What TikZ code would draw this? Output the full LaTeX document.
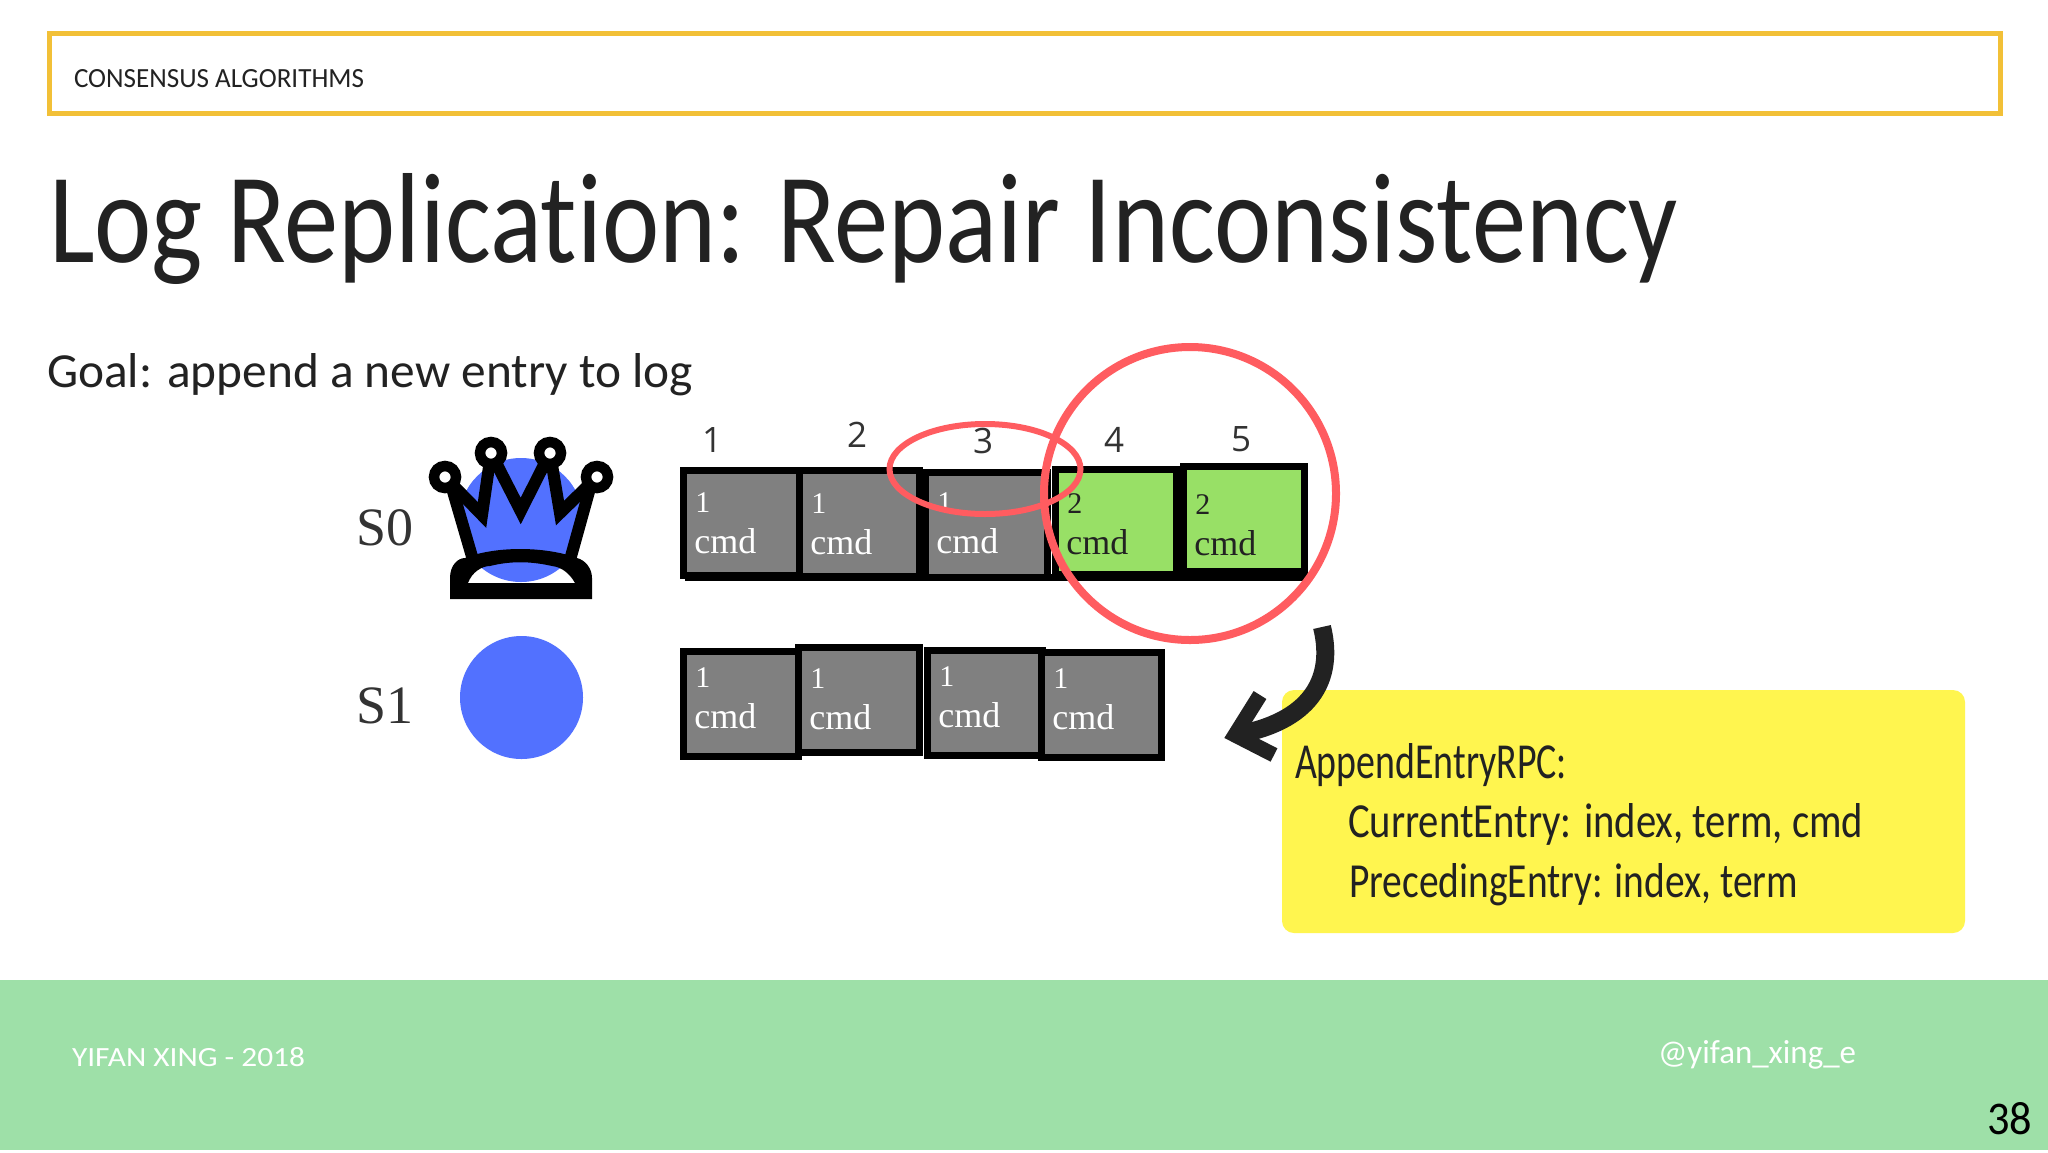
\documentclass[tikz,border=0pt]{standalone}
\usepackage{fontspec}
\usepackage{graphicx}
\usetikzlibrary{shapes.geometric}
\setmainfont{Carlito}[Ligatures=NoCommon]
\newfontfamily\slabfont{Liberation Serif}
\newfontfamily\numfont{Open Sans}
\definecolor{goldc}{HTML}{F2C037}
\definecolor{inkc}{HTML}{222222}
\definecolor{grayc}{HTML}{808080}
\definecolor{greenc}{HTML}{98E066}
\definecolor{bluec}{HTML}{5271FF}
\definecolor{redc}{HTML}{FF5C60}
\definecolor{yellowc}{HTML}{FFF54F}
\definecolor{footc}{HTML}{9EE0A8}
% px unit: 1px = 0.5pt
\newcommand{\fit}[3]{\resizebox{\dimexpr#1pt/2\relax}{\dimexpr#2pt/2\relax}{#3}}
\tikzset{
 x=0.5pt,y=-0.5pt,
 hand/.style={inner sep=0pt,outer sep=0pt,anchor=base west,text=inkc},
 cellbox/.style={draw=black,line width=3.5pt,rectangle,inner sep=0pt,outer sep=0pt},
 graycell/.style={cellbox,fill=grayc},
 greencell/.style={cellbox,fill=greenc},
 termtext/.style={inner sep=0pt,anchor=base west,font=\slabfont\fontsize{15}{15}\selectfont},
 cmdtext/.style={inner sep=0pt,anchor=base west,font=\slabfont\fontsize{18}{18}\selectfont},
 idx/.style={inner sep=0pt,anchor=base,text=black!80,font=\numfont\fontsize{17.5}{18}\selectfont},
 srv/.style={inner sep=0pt,anchor=base west,text=black!80,font=\slabfont\fontsize{27}{27}\selectfont},
 ball/.style={circle,draw=black,fill=white,line width=5.25pt,minimum size=11pt,inner sep=0pt},
 crownline/.style={black,line width=6pt,line join=miter,miter limit=10},
}
% \logcell{name}{style}{textcolor}{x0}{y0}{x1}{y1}{term}{baseline offset}: x0..y1 is the inner fill in px
\newcommand{\logcell}[9]{%
 \node[#2,minimum width={(#6-#4+7)*0.5pt},minimum height={(#7-#5+7)*0.5pt}] (#1) at ({(#4+#6)/2},{(#5+#7)/2}) {};
 \node[termtext,text=#3] (#1t) at ({#4+8},{#5+#9}) {#8};
 \node[cmdtext,text=#3] (#1c) at ({#4+7},{#5+#9+41}) {cmd};
}
\begin{document}
\begin{tikzpicture}
\useasboundingbox (0,0) rectangle (2048,1152);
\fill[white] (0,0) rectangle (2048,1152);
% footer
\fill[footc] (0,980) rectangle (2048,1150);
% header
\node[draw=goldc,line width=2.5pt,rectangle,inner sep=0pt,outer sep=0pt,minimum width=975.25pt,minimum height=40pt] (hdr) at (1024.75,73.5) {};
\node[hand] (kicker) at (74,87) {\fit{290}{18}{CONSENSUS ALGORITHMS}};
\node[hand] (title) at (49,262) {\fit{1629}{89}{Log Replication: Repair Inconsistency}};
\node[hand] (goal) at (47,387) {\fit{646}{34}{Goal: append a new entry to log}};
% servers
\node[srv] (s0) at (356,545) {S0};
\node[srv] (s1) at (356,723) {S1};
\node[circle,fill=bluec,minimum size=62pt,inner sep=0pt] (b0) at (521,520) {};
\node[circle,fill=bluec,minimum size=61.5pt,inner sep=0pt] (b1) at (521.5,697.5) {};
% crown
\draw[crownline] (445,477) -- (482,515) -- (491,453);
\draw[crownline] (491,453) -- (520.7,511) -- (550,453);
\draw[crownline] (550,453) -- (560,513) -- (597,477);
\draw[crownline] (452,488) -- (473,560);
\draw[crownline] (590,488) -- (570,560);
\fill[black,even odd rule] (450,599) -- (450,578) .. controls (450,565) and (458,558) .. (465,558) .. controls (495,546) and (545,546) .. (577,558) .. controls (585,560) and (592,568) .. (592,578) -- (592,599) -- cycle
 (468,583) .. controls (472,572) and (482,566) .. (490,566) .. controls (510,561) and (530,561) .. (552,566) .. controls (562,567) and (570,574) .. (575,583) -- cycle;
\node[ball] (c1) at (445,477) {};
\node[ball] (c2) at (491,453) {};
\node[ball] (c3) at (550,453) {};
\node[ball] (c4) at (597,477) {};
% index labels
\node[idx] (i1) at (712,452) {1};
\node[idx] (i2) at (857,447) {2};
\node[idx] (i3) at (983,453) {3};
\node[idx] (i4) at (1114,452) {4};
\node[idx] (i5) at (1241,451) {5};
% log S0
\fill[black] (685,574) rectangle (1307,581);
\logcell{a1}{graycell}{white}{687}{474}{797}{572}{1}{38}
\logcell{a2}{graycell}{white}{803}{474}{916}{573}{1}{39}
\logcell{a3}{graycell}{white}{929}{476}{1044}{574}{1}{36}
\logcell{a4}{greencell}{inkc}{1059}{473}{1173}{571}{2}{40}
\logcell{a5}{greencell}{inkc}{1187}{470}{1301}{568}{2}{44}
% log S1
\logcell{d1}{graycell}{white}{687}{655}{795}{753}{1}{32}
\logcell{d3}{graycell}{white}{931}{654}{1039}{752}{1}{32}
\logcell{d2}{graycell}{white}{802}{651}{916}{749}{1}{37}
\logcell{d4}{graycell}{white}{1045}{656}{1158}{754}{1}{32}
% highlights
\node[ellipse,draw=redc,line width=3pt,inner sep=0pt,outer sep=0pt,minimum width=95.5pt,minimum height=45pt] (small) at (985,469) {};
\node[ellipse,draw=redc,line width=4pt,inner sep=0pt,outer sep=0pt,minimum width=146pt,minimum height=146.5pt] (big) at (1190,493.5) {};
% note
\node[rectangle,rounded corners=6pt,fill=yellowc,inner sep=0pt,outer sep=0pt,minimum width=341.5pt,minimum height=121.5pt] (note) at (1623.5,811.5) {};
\node[hand] (n1) at (1295,778) {\fit{272}{35}{AppendEntryRPC:}};
\node[hand] (n2) at (1348,837) {\fit{515}{34}{CurrentEntry: index, term, cmd}};
\node[hand] (n3) at (1349,897) {\fit{449}{34}{PrecedingEntry: index, term}};
% arrow
\coordinate (from) at (1322,627);
\coordinate (tip) at (1235,735);
\draw[inkc,line width=9pt] (from) .. controls (1335,680) and (1310,722) .. (tip);
\draw[inkc,line width=7.5pt,miter limit=10] (1260,695) -- (tip) -- (1274,755);
% footer text
\node[hand,text=white] (f1) at (72,1066) {\fit{233}{19}{YIFAN XING - 2018}};
\node[hand,text=white] (f2) at (1658,1063) {\fit{198}{23}{@yifan\_xing\_e}};
\node[hand,text=black] (pg) at (1987,1134) {\fit{45}{32}{38}};
\end{tikzpicture}
\end{document}
